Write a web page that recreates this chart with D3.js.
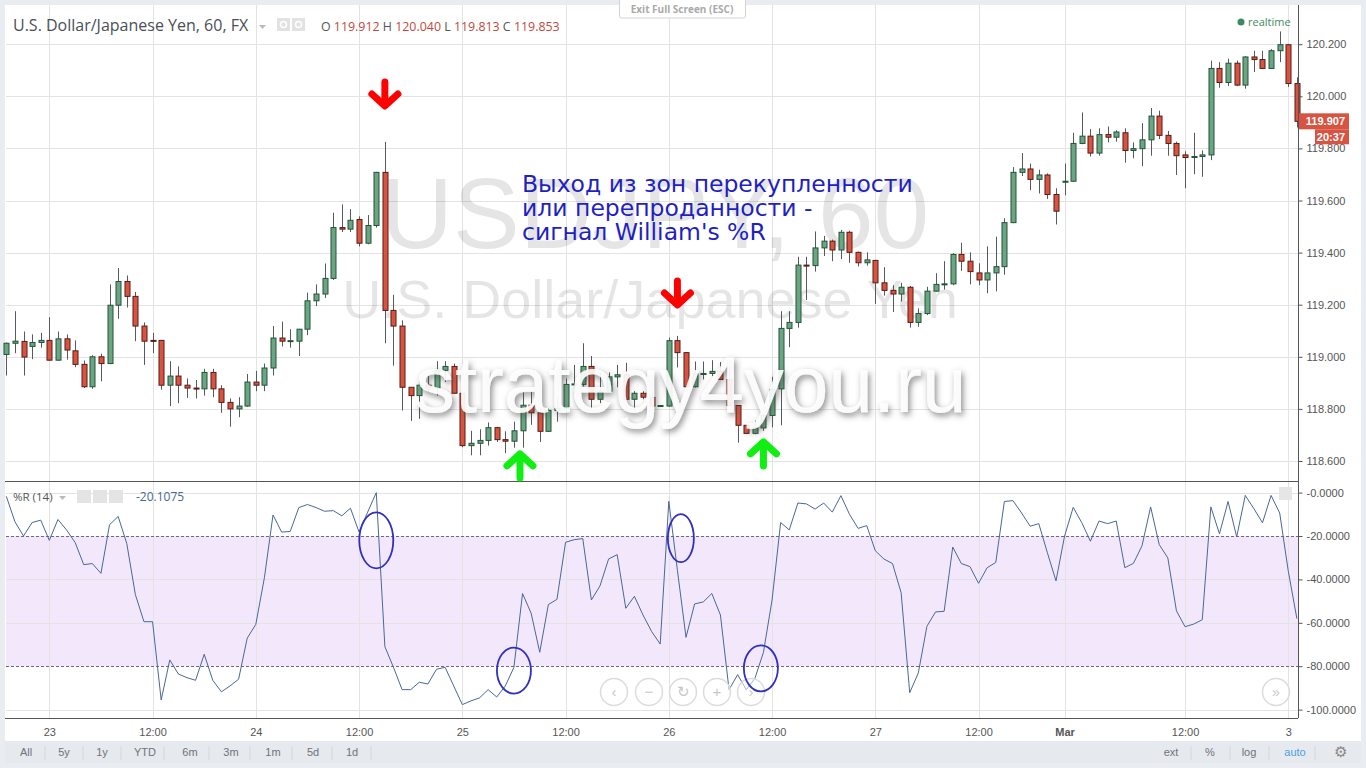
<!DOCTYPE html>
<html>
<head>
<meta charset="utf-8">
<script src="https://cdn.jsdelivr.net/npm/d3@7"></script>
<style>
  body { margin: 0; background: #e9ecf1; overflow: hidden; }
  svg { display: block; }
</style>
</head>
<body>
<svg id="chart"></svg>
<script>
// Hourly USD/JPY bars, Feb 22 evening .. Mar 3 01:00 (weekend gap removed)
const opens = [119.009,119.052,119.059,119.040,119.055,119.063,118.987,119.069,119.023,118.971,
  118.885,119.000,118.974,119.198,119.289,119.232,119.118,119.063,119.063,118.891,
  118.926,118.891,118.880,118.877,118.940,118.877,118.825,118.800,118.811,118.903,
  118.891,118.957,119.072,119.060,119.060,119.106,119.215,119.241,119.301,119.496,
  119.490,119.527,119.436,119.504,119.708,119.178,119.118,118.883,118.851,118.891,
  118.880,118.948,118.963,118.860,118.659,118.668,118.679,118.728,118.682,118.676,
  118.716,118.814,118.785,118.714,118.794,118.802,118.894,118.894,118.963,118.837,
  118.868,118.923,118.931,118.837,118.860,118.844,118.811,118.811,119.062,119.016,
  118.885,118.932,118.936,118.944,118.913,118.813,118.737,118.706,118.727,118.775,
  118.877,119.109,119.132,119.352,119.350,119.418,119.444,119.410,119.478,119.401,
  119.361,119.370,119.284,119.255,119.241,119.267,119.132,119.166,119.252,119.278,
  119.280,119.393,119.367,119.322,119.295,119.322,119.346,119.515,119.708,119.721,
  119.681,119.698,119.623,119.672,119.674,119.819,119.847,119.782,119.853,119.843,
  119.860,119.792,119.799,119.833,119.924,119.850,119.819,119.775,119.765,119.769,
  119.775,120.107,120.053,120.127,120.043,120.151,120.141,120.107,120.175,120.198,
  120.049];
const highs = [119.055,119.175,119.097,119.086,119.092,119.152,119.097,119.086,119.063,118.986,
  119.006,119.012,119.278,119.341,119.312,119.249,119.132,119.092,119.063,118.983,
  118.963,118.917,118.911,118.954,118.954,118.891,118.840,118.845,118.934,118.946,
  118.974,119.118,119.135,119.106,119.106,119.246,119.278,119.358,119.553,119.585,
  119.567,119.539,119.544,119.710,119.825,119.238,119.140,118.883,118.911,118.926,
  118.983,118.983,118.974,118.860,118.716,118.722,118.748,118.731,118.714,118.751,
  118.863,118.865,118.802,118.802,118.840,118.917,118.969,119.052,119.003,118.940,
  118.940,118.969,118.977,118.868,118.868,118.862,118.815,119.074,119.080,119.018,
  118.982,118.982,118.987,118.980,118.957,118.813,118.737,118.755,118.782,118.923,
  119.175,119.175,119.384,119.384,119.481,119.464,119.450,119.487,119.484,119.404,
  119.401,119.372,119.344,119.275,119.284,119.272,119.186,119.269,119.321,119.367,
  119.398,119.438,119.401,119.359,119.424,119.461,119.532,119.728,119.782,119.742,
  119.718,119.704,119.647,119.742,119.860,119.938,119.874,119.877,119.884,119.870,
  119.877,119.823,119.897,119.955,119.945,119.867,119.826,119.789,119.860,119.792,
  120.137,120.131,120.144,120.137,120.154,120.175,120.175,120.181,120.249,120.200,
  120.073];
const lows = [118.928,119.014,118.928,118.991,119.035,118.985,118.985,118.989,118.960,118.880,
  118.877,118.906,118.972,119.146,119.189,119.060,118.969,119.014,118.874,118.811,
  118.822,118.842,118.840,118.851,118.845,118.785,118.732,118.768,118.808,118.868,
  118.868,118.928,119.040,119.035,119.003,119.083,119.195,119.226,119.295,119.479,
  119.479,119.424,119.432,119.496,119.052,118.966,118.794,118.754,118.762,118.865,
  118.851,118.903,118.858,118.653,118.622,118.622,118.659,118.673,118.630,118.651,
  118.651,118.739,118.673,118.712,118.751,118.785,118.860,118.886,118.800,118.822,
  118.866,118.883,118.835,118.794,118.837,118.808,118.808,118.808,118.959,118.882,
  118.882,118.913,118.926,118.911,118.811,118.670,118.704,118.703,118.716,118.729,
  118.737,119.037,119.112,119.218,119.327,119.387,119.367,119.375,119.361,119.347,
  119.350,119.203,119.235,119.172,119.212,119.112,119.115,119.160,119.250,119.258,
  119.275,119.330,119.278,119.275,119.244,119.251,119.315,119.513,119.694,119.640,
  119.627,119.606,119.508,119.620,119.671,119.816,119.769,119.772,119.823,119.826,
  119.745,119.762,119.732,119.772,119.836,119.772,119.698,119.647,119.701,119.691,
  119.755,120.033,120.039,120.039,120.029,120.093,120.105,120.105,120.131,120.036,
  119.880];
const closes = [119.052,119.060,118.999,119.055,119.063,118.987,119.069,119.026,118.971,118.885,
  119.000,118.974,119.198,119.289,119.232,119.118,119.060,119.060,118.891,118.926,
  118.891,118.880,118.877,118.940,118.877,118.825,118.800,118.811,118.903,118.891,
  118.957,119.072,119.060,119.062,119.106,119.215,119.241,119.301,119.496,119.490,
  119.524,119.436,119.504,119.708,119.178,119.118,118.883,118.851,118.891,118.880,
  118.948,118.963,118.860,118.659,118.668,118.679,118.728,118.682,118.676,118.716,
  118.814,118.785,118.714,118.794,118.802,118.894,118.896,118.963,118.837,118.868,
  118.923,118.931,118.837,118.860,118.845,118.811,118.813,119.062,119.016,118.885,
  118.934,118.936,118.944,118.913,118.813,118.737,118.706,118.727,118.775,118.875,
  119.109,119.132,119.352,119.350,119.418,119.444,119.410,119.478,119.401,119.361,
  119.372,119.284,119.255,119.241,119.267,119.132,119.166,119.252,119.278,119.280,
  119.393,119.367,119.327,119.295,119.322,119.346,119.515,119.708,119.721,119.681,
  119.698,119.623,119.559,119.674,119.819,119.847,119.782,119.853,119.843,119.863,
  119.792,119.799,119.833,119.924,119.850,119.819,119.772,119.765,119.769,119.775,
  120.107,120.053,120.127,120.043,120.151,120.141,120.107,120.175,120.198,120.049,
  119.904];
// Williams %R (14), one value per bar
const williamsR = [-1.7,-13.4,-20.0,-13.8,-12.7,-22.0,-12.4,-17.2,-23.0,-33.2,
  -32.7,-37.2,-14.8,-11.0,-23.4,-47.0,-59.5,-59.5,-95.6,-77.1,
  -83.6,-85.3,-86.5,-74.5,-86.5,-91.8,-89.1,-86.0,-67.1,-60.7,
  -39.2,-10.3,-18.2,-17.9,-6.9,-5.5,-6.9,-8.6,-8.3,-10.7,
  -7.2,-18.2,-9.0,0,-71.0,-80.5,-90.8,-90.8,-87.4,-88.2,
  -81.4,-80.5,-89.1,-97.7,-96.0,-94.6,-90.8,-94.2,-89.1,-80.5,
  -46.5,-55.6,-73.6,-51.6,-49.2,-22.9,-21.7,-21.2,-49.5,-43.0,
  -30.6,-28.6,-53.3,-47.8,-56.4,-64.0,-69.8,-4.0,-35.8,-66.7,
  -51.3,-50.4,-46.5,-56.4,-90.8,-83.9,-90.8,-85.7,-73.6,-49.5,
  -13.8,-17.2,-4.8,-5.2,-7.6,-4.8,-9.0,-1.4,-10.0,-16.5,
  -15.2,-26.8,-30.6,-32.7,-46.1,-92.2,-83.1,-61.6,-55.0,-54.7,
  -25.1,-32.7,-34.1,-41.8,-34.6,-32.2,-4.1,-3.7,-9.4,-15.5,
  -14.3,-27.7,-40.7,-20.0,-6.8,-13.9,-22.4,-13.1,-14.3,-13.1,
  -34.6,-32.6,-24.5,-6.6,-24.0,-30.1,-54.5,-61.8,-60.6,-58.6,
  -6.6,-19.0,-4.1,-20.4,-1.3,-7.4,-13.9,-1.3,-9.4,-36.2,
  -58.1];

const timeTickBars = [5, 17, 29, 41, 53, 65, 77, 89, 101, 113, 123, 137, 149];
const timeTickLabels = ["23", "12:00", "24", "12:00", "25", "12:00", "26", "12:00", "27", "12:00", "Mar", "12:00", "3"];
const priceTicks = [118.6, 118.8, 119.0, 119.2, 119.4, 119.6, 119.8, 120.0, 120.2];
const wrTicks = [0, -20, -40, -60, -80, -100];
const wrLevels = [-20, -80];
const rangeButtons = ["All", "5y", "1y", "YTD", "6m", "3m", "1m", "5d", "1d"];
const scaleButtons = ["ext", "%", "log", "auto"];
const ohlcLabels = ["O", "H", "L", "C"];
const ohlcValues = ["119.912", "120.040", "119.813", "119.853"];
const lastPrice = "119.907";
const noteLines = ["Выход из зон перекупленности", "или перепроданности -", "сигнал William's %R"];
// annotation anchors: bar index + price / %R value
const sellSignals = [{bar: 44, price: 119.955}, {bar: 78, price: 119.191}];
const buySignals = [{bar: 59.7, price: 118.635}, {bar: 88, price: 118.681}];
const wrRings = [{bar: 43, value: -22}, {bar: 59, value: -82}, {bar: 78.4, value: -21}, {bar: 87.7, value: -81}];

const W = 1366, H = 768;
const plotL = 6, plotR = 1298;
const mainTop = 5, mainBottom = 481, wrBottom = 718;

const svg = d3.select("#chart").attr("width", W).attr("height", H)
  .style("font-family", "'Liberation Sans', Arial, sans-serif");

// Frame
svg.append("rect").attr("x", 5).attr("y", 5).attr("width", 1356).attr("height", 736).attr("fill", "#fff");
svg.append("rect").attr("x", 5).attr("y", 741).attr("width", 1356).attr("height", 22).attr("fill", "#e6e9ee");

const x = d3.scaleLinear().domain([0, 150]).range([6.3, 1296.9]);
const yP = d3.scaleLinear().domain([118.6, 120.2]).range([461, 44.2]);
const yR = d3.scaleLinear().domain([-100, 0]).range([709.6, 492.6]);

// %R band
svg.append("rect")
  .attr("x", plotL).attr("width", plotR - plotL)
  .attr("y", yR(wrLevels[0])).attr("height", yR(wrLevels[1]) - yR(wrLevels[0]))
  .attr("fill", "#f3e7fc");

// Grid
const grid = svg.append("g").attr("stroke", "#e3e3e3").attr("stroke-width", 1);
grid.selectAll(".vg").data(timeTickBars).enter().append("line")
  .attr("x1", d => Math.round(x(d)) + 0.5).attr("x2", d => Math.round(x(d)) + 0.5)
  .attr("y1", mainTop).attr("y2", wrBottom);
grid.selectAll(".hg").data(priceTicks).enter().append("line")
  .attr("x1", plotL).attr("x2", plotR)
  .attr("y1", d => Math.round(yP(d)) + 0.5).attr("y2", d => Math.round(yP(d)) + 0.5);
grid.selectAll(".rg").data(wrTicks.filter(d => d !== -20 && d !== -80)).enter().append("line")
  .attr("x1", plotL).attr("x2", plotR)
  .attr("y1", d => Math.round(yR(d)) + 0.5).attr("y2", d => Math.round(yR(d)) + 0.5);

// Watermarks
svg.append("text").attr("x", 655).attr("y", 248).attr("text-anchor", "middle")
  .attr("font-size", 100).attr("fill", "rgba(0,0,0,0.1)").text("USDJPY, 60");
svg.append("text").attr("x", 650).attr("y", 318).attr("text-anchor", "middle")
  .attr("font-size", 54).attr("fill", "rgba(0,0,0,0.1)").text("U.S. Dollar/Japanese Yen");

// Candles
const bars = d3.range(opens.length);
const candles = svg.append("g");
candles.selectAll(".wick").data(bars).enter().append("line")
  .attr("x1", i => Math.round(x(i)) + 0.5).attr("x2", i => Math.round(x(i)) + 0.5)
  .attr("y1", i => yP(highs[i])).attr("y2", i => yP(lows[i]))
  .attr("stroke", "#555a5e");
candles.selectAll(".body").data(bars).enter().append("rect")
  .attr("x", i => Math.round(x(i)) - 2)
  .attr("width", 5)
  .attr("y", i => yP(Math.max(opens[i], closes[i])))
  .attr("height", i => Math.max(1, Math.abs(yP(opens[i]) - yP(closes[i]))))
  .attr("fill", i => closes[i] >= opens[i] ? "#6ba583" : "#d75442")
  .attr("stroke", i => closes[i] >= opens[i] ? "#225437" : "#5b1a13")
  .attr("stroke-width", 1);

// strategy4you watermark (white with grey shadow)
const defs = svg.append("defs");
const f = defs.append("filter").attr("id", "shadow").attr("x", "-10%").attr("y", "-30%").attr("width", "120%").attr("height", "160%");
f.append("feDropShadow").attr("dx", 2).attr("dy", 3).attr("stdDeviation", 3)
  .attr("flood-color", "#444").attr("flood-opacity", 0.7);
svg.append("text").attr("x", 415).attr("y", 412)
  .attr("font-size", 80).attr("fill", "rgba(255,255,255,0.9)").attr("filter", "url(#shadow)")
  .text("strategy4you.ru");

// Panel divider and axes lines
svg.append("line").attr("x1", 5).attr("x2", plotR).attr("y1", mainBottom + 0.5).attr("y2", mainBottom + 0.5)
  .attr("stroke", "#555").attr("stroke-width", 1.2);
svg.append("line").attr("x1", 5).attr("x2", plotR).attr("y1", wrBottom + 0.5).attr("y2", wrBottom + 0.5)
  .attr("stroke", "#555");
svg.append("line").attr("x1", plotR + 0.5).attr("x2", plotR + 0.5).attr("y1", mainTop).attr("y2", wrBottom)
  .attr("stroke", "#555");

// Price axis
const priceAxis = svg.append("g").attr("transform", `translate(${plotR + 0.5},0)`)
  .call(d3.axisRight(yP).tickValues(priceTicks).tickFormat(d3.format(".3f")).tickSize(4).tickPadding(4));
priceAxis.select(".domain").remove();
priceAxis.selectAll("line").attr("stroke", "#555");
priceAxis.selectAll("text").attr("fill", "#555").attr("font-size", 11).attr("font-family", "'Liberation Sans', Arial, sans-serif");

// %R axis
const wrAxis = svg.append("g").attr("transform", `translate(${plotR + 0.5},0)`)
  .call(d3.axisRight(yR).tickValues(wrTicks).tickFormat(d => "-" + Math.abs(d).toFixed(4)).tickSize(4).tickPadding(4));
wrAxis.select(".domain").remove();
wrAxis.selectAll("line").attr("stroke", "#555");
wrAxis.selectAll("text").attr("fill", "#555").attr("font-size", 11).attr("font-family", "'Liberation Sans', Arial, sans-serif");

// Time axis
const timeAxis = svg.append("g").attr("transform", `translate(0,${wrBottom})`)
  .call(d3.axisBottom(x).tickValues(timeTickBars).tickFormat((d, i) => timeTickLabels[i]).tickSize(0).tickPadding(10));
timeAxis.select(".domain").remove();
timeAxis.selectAll("text").attr("fill", "#555").attr("font-size", 11)
  .attr("font-family", "'Liberation Sans', Arial, sans-serif")
  .attr("font-weight", d => d === 123 ? "bold" : null);

// %R level lines
svg.selectAll(".lvl").data(wrLevels).enter().append("line")
  .attr("x1", plotL).attr("x2", plotR)
  .attr("y1", d => Math.round(yR(d)) + 0.5).attr("y2", d => Math.round(yR(d)) + 0.5)
  .attr("stroke", "#6b6b7b").attr("stroke-dasharray", "3,2");

// %R line
svg.append("path").datum(bars)
  .attr("d", d3.line().x(i => x(i)).y(i => yR(williamsR[i])))
  .attr("fill", "none").attr("stroke", "#4a6796").attr("stroke-width", 1);

// Last price labels
const lastY = yP(closes[closes.length - 1]);
svg.append("rect").attr("x", plotR + 1).attr("y", lastY - 8).attr("width", 50).attr("height", 16).attr("fill", "#d75442");
svg.append("text").attr("x", plotR + 47).attr("y", lastY + 4).attr("text-anchor", "end")
  .attr("fill", "#fff").attr("font-size", 11).attr("font-weight", "bold").text(lastPrice);
svg.append("rect").attr("x", plotR + 17).attr("y", lastY + 8).attr("width", 34).attr("height", 15).attr("fill", "#d75442");
svg.append("text").attr("x", plotR + 47).attr("y", lastY + 20).attr("text-anchor", "end")
  .attr("fill", "#fff").attr("font-size", 11).attr("font-weight", "bold").text("20:37");

// Header
const header = svg.append("g").attr("font-family", "'Open Sans', sans-serif");
header.append("text").attr("x", 13).attr("y", 31).attr("font-size", 16).attr("fill", "#4a4f57")
  .text("U.S. Dollar/Japanese Yen, 60, FX");
header.append("path").attr("d", "M259,25 l7,0 l-3.5,4 z").attr("fill", "#bbb");
[277, 292].forEach(px => {
  header.append("rect").attr("x", px).attr("y", 18).attr("width", 13).attr("height", 13).attr("fill", "#e2e2e2");
  header.append("circle").attr("cx", px + 6.5).attr("cy", 24.5).attr("r", 3).attr("fill", "none").attr("stroke", "#fff").attr("stroke-width", 1.5);
});
const ohlc = header.append("text").attr("x", 321).attr("y", 31).attr("font-size", 12.4);
ohlcLabels.forEach((l, i) => {
  ohlc.append("tspan").attr("fill", "#555").text((i ? " " : "") + l + " ");
  ohlc.append("tspan").attr("fill", "#c2493c").text(ohlcValues[i]);
});

// realtime
svg.append("circle").attr("cx", 1241).attr("cy", 22).attr("r", 3.5).attr("fill", "#3d8a5f");
svg.append("text").attr("x", 1248).attr("y", 26).attr("font-size", 11).attr("fill", "#3d8a5f")
  .attr("font-family", "'Open Sans', sans-serif").text("realtime");

// Exit full screen
svg.append("rect").attr("x", 619.5).attr("y", -1).attr("width", 126).attr("height", 19).attr("rx", 2)
  .attr("fill", "#fff").attr("stroke", "#d3d3d3");
svg.append("text").attr("x", 682).attr("y", 13).attr("text-anchor", "middle").attr("font-size", 10)
  .attr("font-weight", "bold").attr("fill", "#aaa").attr("font-family", "'Open Sans', sans-serif")
  .text("Exit Full Screen (ESC)");

// %R header
const wrHead = svg.append("g").attr("font-family", "'Open Sans', sans-serif");
wrHead.append("text").attr("x", 13).attr("y", 501).attr("font-size", 11.5).attr("fill", "#555").text("%R (14)");
wrHead.append("path").attr("d", "M59,496 l7,0 l-3.5,4 z").attr("fill", "#bbb");
[77, 93, 109].forEach(px => {
  wrHead.append("rect").attr("x", px).attr("y", 490).attr("width", 14).attr("height", 13).attr("fill", "#e4e4e4");
});
wrHead.append("text").attr("x", 136).attr("y", 501).attr("font-size", 12).attr("fill", "#4a6796").text("-20.1075");
svg.append("rect").attr("x", 1279).attr("y", 487).attr("width", 13).attr("height", 13).attr("fill", "#e6e6e6");

// Navigation buttons
const navX = [614, 649, 683, 717, 751];
const navSym = ["‹", "−", "↻", "+", "›"];
navX.forEach((cx, i) => {
  svg.append("circle").attr("cx", cx).attr("cy", 692).attr("r", 13.5)
    .attr("fill", "rgba(255,255,255,0.5)").attr("stroke", "#dcdcdc").attr("stroke-width", 1.5);
  svg.append("text").attr("x", cx).attr("y", 697).attr("text-anchor", "middle").attr("font-size", 15)
    .attr("fill", "#c8c8c8").text(navSym[i]);
});
svg.append("circle").attr("cx", 1276).attr("cy", 692).attr("r", 13.5)
  .attr("fill", "rgba(255,255,255,0.5)").attr("stroke", "#dcdcdc").attr("stroke-width", 1.5);
svg.append("text").attr("x", 1276).attr("y", 697).attr("text-anchor", "middle").attr("font-size", 14)
  .attr("fill", "#c8c8c8").text("»");

// Toolbar
const rangeX = [26, 64, 102, 145, 190, 231, 273, 313, 352];
rangeButtons.forEach((b, i) => {
  svg.append("text").attr("x", rangeX[i]).attr("y", 756).attr("text-anchor", "middle")
    .attr("font-size", 11).attr("fill", "#6f737a").text(b);
  svg.append("line").attr("x1", rangeX[i] + 19).attr("x2", rangeX[i] + 19)
    .attr("y1", 746).attr("y2", 760).attr("stroke", "#d4d8de");
});
const scaleX = [1171, 1210, 1249, 1295];
scaleButtons.forEach((b, i) => {
  svg.append("text").attr("x", scaleX[i]).attr("y", 756).attr("text-anchor", "middle")
    .attr("font-size", 11).attr("fill", b === "auto" ? "#4aa3df" : "#6f737a").text(b);
  svg.append("line").attr("x1", scaleX[i] + 20).attr("x2", scaleX[i] + 20)
    .attr("y1", 746).attr("y2", 760).attr("stroke", "#d4d8de");
});
svg.append("text").attr("x", 1340).attr("y", 757).attr("text-anchor", "middle").attr("font-size", 15)
  .attr("fill", "#888").text("⚙");

// Annotation text
const note = svg.append("text").attr("font-family", "'DejaVu Sans', Verdana, sans-serif")
  .attr("font-size", 23.5).attr("fill", "#1f1fc4");
noteLines.forEach((t, i) => note.append("tspan").attr("x", 522).attr("y", 192 + i * 24).text(t));

// Signal arrows
function arrow(cx, tipY, dir, color) {
  const s = dir; // +1 down, -1 up
  svg.append("path")
    .attr("d", `M${cx},${tipY - s * 26} L${cx},${tipY - s * 3} M${cx - 13},${tipY - s * 14} L${cx},${tipY - s * 2} L${cx + 13},${tipY - s * 14}`)
    .attr("fill", "none").attr("stroke", color).attr("stroke-width", 7)
    .attr("stroke-linecap", "round").attr("stroke-linejoin", "round");
}
sellSignals.forEach(s => arrow(x(s.bar), yP(s.price), 1, "#ff0000"));
buySignals.forEach(s => arrow(x(s.bar), yP(s.price), -1, "#11ee11"));

// Rings on %R
const ringSize = [[17, 28], [17, 23], [13, 24], [17, 23]];
wrRings.forEach((r, i) => {
  svg.append("ellipse").attr("cx", x(r.bar)).attr("cy", yR(r.value))
    .attr("rx", ringSize[i][0]).attr("ry", ringSize[i][1])
    .attr("fill", "none").attr("stroke", "#2f2fc0").attr("stroke-width", 1.8);
});
</script>
</body>
</html>
